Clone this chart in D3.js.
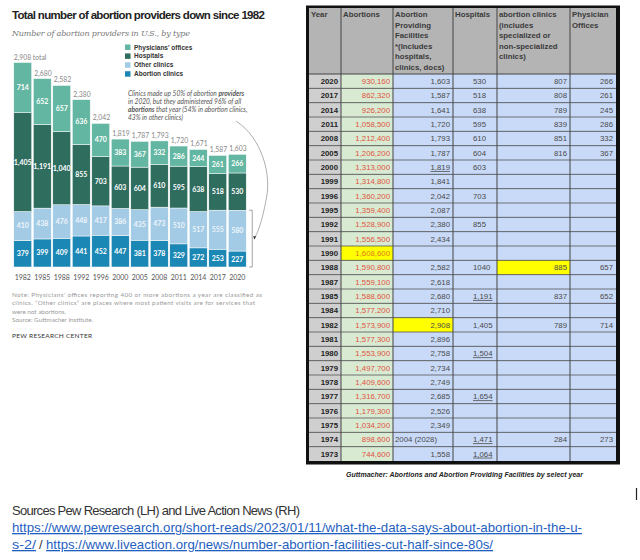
<!DOCTYPE html>
<html>
<head>
<meta charset="utf-8">
<script src="https://cdn.jsdelivr.net/npm/d3@7"></script>
<style>
  html, body { margin: 0; padding: 0; background: #fff; }
  svg { display: block; }
</style>
</head>
<body>
<svg id="chart" width="640" height="560"></svg>
<script>
// ---- left chart data (Pew Research) ----
const years = [1982, 1985, 1988, 1992, 1996, 2000, 2005, 2008, 2011, 2014, 2017, 2020];
const abortionClinics = [379, 399, 409, 441, 452, 447, 381, 378, 329, 272, 253, 227];
const otherClinics = [410, 438, 476, 448, 417, 386, 435, 473, 510, 517, 555, 580];
const hospitals = [1405, 1191, 1040, 855, 703, 603, 604, 610, 595, 638, 518, 530];
const physicians = [714, 652, 657, 636, 470, 383, 367, 332, 286, 244, 261, 266];
const seriesNames = ["Abortion clinics", "Other clinics", "Hospitals", "Physicians' offices"];
const legendOrder = ["Physicians' offices", "Hospitals", "Other clinics", "Abortion clinics"];

// ---- right table data (Live Action / Guttmacher) ----
const tableYears = [2020, 2017, 2014, 2011, 2008, 2005, 2000, 1999, 1996, 1995, 1992, 1991, 1990,
  1988, 1987, 1985, 1984, 1982, 1981, 1980, 1979, 1978, 1977, 1976, 1975, 1974, 1973];
const tableAbortions = ["930,160", "862,320", "926,200", "1,058,500", "1,212,400", "1,206,200", "1,313,000",
  "1,314,800", "1,360,200", "1,359,400", "1,528,900", "1,556,500", "1,608,600", "1,590,800", "1,559,100",
  "1,588,600", "1,577,200", "1,573,900", "1,577,300", "1,553,900", "1,497,700", "1,409,600", "1,316,700",
  "1,179,300", "1,034,200", "898,600", "744,600"];
const tableFacilities = ["1,603", "1,587", "1,641", "1,720", "1,793", "1,787", "1,819", "1,841", "2,042",
  "2,087", "2,380", "2,434", "", "2,582", "2,618", "2,680", "2,710", "2,908", "2,896", "2,758", "2,734",
  "2,749", "2,685", "2,526", "2,349", "2004 (2028)", "1,558"];
const tableHospitals = ["530", "518", "638", "595", "610", "604", "603", "", "703", "", "855", "", "",
  "1040", "", "1,191", "", "1,405", "", "1,504", "", "", "1,654", "", "", "1,471", "1,064"];
const tableClinics = ["807", "808", "789", "839", "851", "816", "", "", "", "", "", "", "",
  "885", "", "837", "", "789", "", "", "", "", "", "", "", "284", ""];
const tablePhysicians = ["266", "261", "245", "286", "332", "367", "", "", "", "", "", "", "",
  "657", "", "652", "", "714", "", "", "", "", "", "", "", "273", ""];
const headers = [
  ["Year"],
  ["Abortions"],
  ["Abortion", "Providing", "Facilities", "*(Includes", "hospitals,", "clinics, docs)"],
  ["Hospitals"],
  ["abortion clinics", "(includes", "specialized or", "non-specialized", "clinics)"],
  ["Physician", "Offices"]
];
const highlighted = [[1990, 1], [1988, 4], [1982, 2]];
const underlined = [[2000, 2], [1985, 3], [1980, 3], [1977, 3], [1974, 3], [1973, 3]];

const svg = d3.select("#chart");
const sans = "'Liberation Sans', Arial, sans-serif";
const lato = "Lato, 'Liberation Sans', sans-serif";

// ================= LEFT: stacked bars =================
const colors = d3.scaleOrdinal()
  .domain(seriesNames)
  .range(["#1b87b4", "#a3cbe5", "#2f6d5f", "#63b7a2"]);

const rows = years.map((y, i) => ({
  year: y,
  "Abortion clinics": abortionClinics[i],
  "Other clinics": otherClinics[i],
  "Hospitals": hospitals[i],
  "Physicians' offices": physicians[i]
}));
const stacked = d3.stack().keys(seriesNames)(rows);
const totals = rows.map(r => d3.sum(seriesNames, k => r[k]));

const x = d3.scaleBand().domain(years).range([13, 247]).paddingInner(0.08).paddingOuter(0.04);
const y = d3.scaleLinear().domain([0, 2908]).range([267, 62.5]);

svg.append("text").attr("x", 12).attr("y", 19)
  .attr("font-family", sans).attr("font-weight", "bold").attr("font-size", 11.5)
  .attr("fill", "#222").attr("textLength", 253)
  .text("Total number of abortion providers down since 1982");

svg.append("text").attr("x", 12).attr("y", 36)
  .attr("font-family", "'DejaVu Serif', Georgia, serif").attr("font-style", "italic")
  .attr("font-size", 8).attr("fill", "#777").attr("textLength", 178)
  .text("Number of abortion providers in U.S., by type");

const g = svg.append("g");
g.selectAll("g.series").data(stacked).join("g")
  .attr("class", "series")
  .attr("fill", d => colors(d.key))
  .selectAll("rect").data(d => d).join("rect")
  .attr("x", d => x(d.data.year))
  .attr("y", d => y(d[1]))
  .attr("width", x.bandwidth())
  .attr("height", d => y(d[0]) - y(d[1]))
  .attr("stroke", "#fff").attr("stroke-width", 0.5);

// values inside segments
stacked.forEach(s => {
  g.selectAll(null).data(s).join("text")
    .attr("x", d => x(d.data.year) + x.bandwidth() / 2)
    .attr("y", d => (y(d[0]) + y(d[1])) / 2 + 2.5)
    .attr("text-anchor", "middle")
    .attr("font-family", lato).attr("font-weight", "bold").attr("font-size", 7)
    .attr("fill", s.key === "Other clinics" ? "#eef5fb" : "#fff")
    .text(d => d3.format(",")(d.data[s.key]));
});

// totals
g.selectAll("text.total").data(rows).join("text")
  .attr("class", "total")
  .attr("x", (d, i) => x(d.year) + (i === 0 ? 0 : 1))
  .attr("y", (d, i) => y(totals[i]) - 3)
  .attr("font-family", lato).attr("font-size", 6.8).attr("fill", "#888")
  .text((d, i) => d3.format(",")(totals[i]) + (i === 0 ? " total" : ""));

// x axis labels
const xAxis = g.append("g").attr("transform", "translate(0,267)")
  .call(d3.axisBottom(x).tickSize(0).tickPadding(8));
xAxis.select(".domain").remove();
xAxis.selectAll("text").attr("font-family", lato).attr("font-size", 7).attr("fill", "#555");

// legend
const legend = svg.append("g").selectAll("g").data(legendOrder).join("g")
  .attr("transform", (d, i) => `translate(125,${44.5 + i * 8.9})`);
legend.append("rect").attr("width", 5.5).attr("height", 5.5).attr("fill", d => colors(d));
legend.append("text").attr("x", 9).attr("y", 5).attr("font-family", sans)
  .attr("font-weight", "bold").attr("font-size", 6.5).attr("fill", "#333").text(d => d);

// annotation
const note = svg.append("text").attr("font-family", lato).attr("font-style", "italic")
  .attr("font-size", 6.6).attr("fill", "#555");
const noteLines = [
  [["Clinics made up 50% of abortion ", false], ["providers", true]],
  [["in 2020, but they administered 96% of all", false]],
  [["abortions", true], [" that year (54% in abortion clinics,", false]],
  [["43% in other clinics)", false]]
];
noteLines.forEach((line, i) => {
  line.forEach((part, j) => {
    const t = note.append("tspan").attr("font-weight", part[1] ? "bold" : null).text(part[0]);
    if (j === 0) t.attr("x", 128).attr("y", 95.5 + i * 8);
  });
});

// bracket + curved arrow
const bx = x(2020) + x.bandwidth() + 6;
const bTop = y(abortionClinics[11] + otherClinics[11]);
const bBot = y(0);
svg.append("path")
  .attr("d", `M${bx - 3},${bTop}H${bx}V${bBot}H${bx - 3}`)
  .attr("fill", "none").attr("stroke", "#666").attr("stroke-width", 0.6);
const midY = (bTop + bBot) / 2;
svg.append("path")
  .attr("d", `M236,121 C262,138 272,175 266,200 C262,222 258,232 ${bx + 2},${midY}`)
  .attr("fill", "none").attr("stroke", "#777").attr("stroke-width", 0.6);
svg.append("path")
  .attr("d", `M${bx + 1},${midY - 2.5}L${bx + 2},${midY + 1}L${bx + 4},${midY - 2}Z`)
  .attr("fill", "#333");

// notes
const foot = [
  ["Note: Physicians' offices reporting 400 or more abortions a year are classified as", 250],
  ["clinics. \u201cOther clinics\u201d are places where most patient visits are for services that", 243],
  ["were not abortions.", null],
  ["Source: Guttmacher Institute.", null]
];
foot.forEach((f, i) => {
  const t = svg.append("text").attr("x", 12).attr("y", 296.5 + i * 8.6)
    .attr("font-family", lato).attr("font-size", 6.3).attr("fill", "#9a9a9a").text(f[0]);
  if (f[1]) t.attr("textLength", f[1]);
});
svg.append("text").attr("x", 12).attr("y", 337.5).attr("font-family", lato)
  .attr("font-size", 6.5).attr("fill", "#333").attr("textLength", 80).text("PEW RESEARCH CENTER");

// ================= RIGHT: table =================
const colEdges = [309, 341, 393, 453, 497, 570, 616];
const headTop = 8, headBot = 74, tableBot = 461;
const rowY = d3.scaleBand().domain(tableYears).range([headBot, tableBot]);
const colFill = ["#cfcfcf", "#d9ead3", "#c9daf8", "#c9daf8", "#c9daf8", "#c9daf8"];
const columns = [tableYears.map(String), tableAbortions, tableFacilities, tableHospitals, tableClinics, tablePhysicians];

const tbl = svg.append("g");
tbl.append("rect").attr("x", 306).attr("y", 5.5).attr("width", 314).attr("height", 459).attr("fill", "#111");
// header
colEdges.slice(0, -1).forEach((cx, c) => {
  tbl.append("rect").attr("x", cx).attr("y", headTop).attr("width", colEdges[c + 1] - cx)
    .attr("height", headBot - headTop).attr("fill", "#b4b4b4");
  headers[c].forEach((h, k) => {
    tbl.append("text").attr("x", cx + 2).attr("y", headTop + 9 + k * 10.6)
      .attr("font-family", sans).attr("font-weight", "bold").attr("font-size", 7.8)
      .attr("fill", "#3a3a3a").text(h);
  });
});
// body cells
columns.forEach((col, c) => {
  col.forEach((val, r) => {
    const yr = tableYears[r];
    const isHi = highlighted.some(h => h[0] === yr && h[1] === c);
    const isUl = underlined.some(u => u[0] === yr && u[1] === c);
    const cx = colEdges[c], w = colEdges[c + 1] - cx;
    tbl.append("rect").attr("x", cx).attr("y", rowY(yr)).attr("width", w).attr("height", rowY.bandwidth())
      .attr("fill", isHi ? "#ffff00" : colFill[c]);
    if (!val) return;
    let anchor = "end", tx = cx + w - 3;
    if (c === 3) { anchor = "start"; tx = cx + 20; }
    if (c === 2 && val.includes("(")) { anchor = "start"; tx = cx + 2; }
    tbl.append("text").attr("x", tx).attr("y", rowY(yr) + rowY.bandwidth() / 2 + 2.8)
      .attr("text-anchor", anchor).attr("font-family", sans)
      .attr("font-weight", c === 0 ? "bold" : null).attr("font-size", 7.8)
      .attr("text-decoration", isUl ? "underline" : null)
      .attr("fill", c === 0 ? "#222" : c === 1 ? (isHi ? "#e07b22" : "#e0533d") : "#4a4a4a")
      .text(val);
  });
});
// grid lines
tbl.selectAll("line.h").data(tableYears.slice(1)).join("line")
  .attr("x1", colEdges[0]).attr("x2", colEdges[6])
  .attr("y1", d => rowY(d)).attr("y2", d => rowY(d))
  .attr("stroke", "#555").attr("stroke-width", 0.8);
tbl.append("line").attr("x1", colEdges[0]).attr("x2", colEdges[6]).attr("y1", headBot).attr("y2", headBot)
  .attr("stroke", "#444").attr("stroke-width", 1);
tbl.selectAll("line.v").data(colEdges.slice(1, -1)).join("line")
  .attr("x1", d => d).attr("x2", d => d).attr("y1", headTop).attr("y2", tableBot)
  .attr("stroke", "#444").attr("stroke-width", 1);

svg.append("text").attr("x", 346).attr("y", 477).attr("font-family", sans)
  .attr("font-weight", "bold").attr("font-style", "italic").attr("font-size", 7)
  .attr("fill", "#222").attr("textLength", 237)
  .text("Guttmacher: Abortions and Abortion Providing Facilities by select year");

// text cursor mark
svg.append("line").attr("x1", 636.5).attr("x2", 636.5).attr("y1", 488).attr("y2", 500)
  .attr("stroke", "#222").attr("stroke-width", 1.2);

// ================= bottom sources =================
svg.append("text").attr("x", 12).attr("y", 515).attr("font-family", sans).attr("font-size", 13)
  .attr("fill", "#333").attr("textLength", 288)
  .text("Sources Pew Research (LH) and Live Action News (RH)");
const links = [
  ["https://www.pewresearch.org/short-reads/2023/01/11/what-the-data-says-about-abortion-in-the-u-", 12, 570],
  ["s-2/", 12, 24],
  ["https://www.liveaction.org/news/number-abortion-facilities-cut-half-since-80s/", 46, 447]
];
links.forEach((l, i) => {
  svg.append("text").attr("x", l[1]).attr("y", i === 0 ? 532 : 549).attr("font-family", sans)
    .attr("font-size", 13).attr("fill", "#1f5fbf").attr("text-decoration", "underline")
    .attr("textLength", l[2]).attr("lengthAdjust", "spacingAndGlyphs").text(l[0]);
});
svg.append("text").attr("x", 39).attr("y", 549).attr("font-family", sans).attr("font-size", 13)
  .attr("fill", "#333").text("/");
</script>
</body>
</html>
